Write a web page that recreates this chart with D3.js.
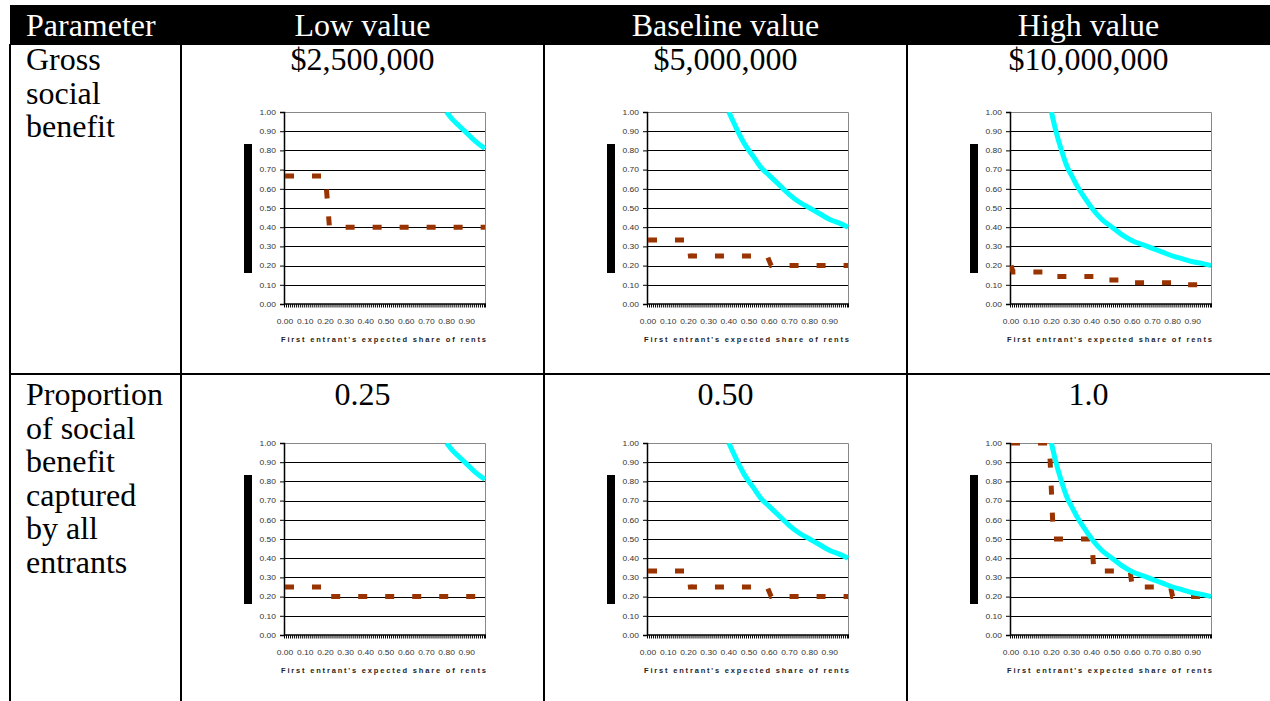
<!DOCTYPE html>
<html>
<head>
<meta charset="utf-8">
<script src="https://cdn.jsdelivr.net/npm/d3@7"></script>
<style>
  body { margin: 0; background: #fff; }
  svg { display: block; }
  .tbl { font-family: "Liberation Serif", "Times New Roman", serif; font-size: 32px; }
  .tick-lbl { font-family: "Liberation Sans", Arial, sans-serif; font-size: 6.5px; fill: #333; }
  .ax-title { font-family: "Liberation Sans", Arial, sans-serif; font-size: 7.5px; font-weight: bold; fill: #222; }
</style>
</head>
<body>
<svg id="page" width="1270" height="701"></svg>
<script>
// ---- table text ----
var colHeaders = ["Parameter", "Low value", "Baseline value", "High value"];
var rowLabels = [
  ["Gross", "social", "benefit"],
  ["Proportion", "of social", "benefit", "captured", "by all", "entrants"]
];
var cellTitles = [
  ["$2,500,000", "$5,000,000", "$10,000,000"],
  ["0.25", "0.50", "1.0"]
];

// ---- axes ----
var categories = d3.range(100).map(function(i) { return (i / 100).toFixed(2); });
var xTickLabels = ["0.00", "0.10", "0.20", "0.30", "0.40", "0.50", "0.60", "0.70", "0.80", "0.90"];
var yTicks = [0, 0.1, 0.2, 0.3, 0.4, 0.5, 0.6, 0.7, 0.8, 0.9, 1.0];
var xTitle = "First entrant's expected share of rents";

// ---- cyan curves [share, value] ----
var cyanLow = [[0.80, 1.00], [0.83, 0.96], [0.86, 0.93], [0.90, 0.89], [0.94, 0.85], [0.99, 0.81]];
var cyanBase = [[0.40, 1.00], [0.44, 0.91], [0.48, 0.83], [0.52, 0.77], [0.56, 0.71], [0.60, 0.67],
  [0.65, 0.62], [0.70, 0.57], [0.75, 0.53], [0.80, 0.50], [0.85, 0.47], [0.90, 0.44], [0.95, 0.42], [0.99, 0.40]];
var cyanHigh = [[0.20, 1.00], [0.22, 0.91], [0.25, 0.80], [0.28, 0.71], [0.30, 0.67], [0.33, 0.61],
  [0.36, 0.56], [0.40, 0.50], [0.45, 0.44], [0.50, 0.40], [0.55, 0.36], [0.60, 0.33], [0.65, 0.31],
  [0.70, 0.29], [0.75, 0.27], [0.80, 0.25], [0.85, 0.235], [0.90, 0.22], [0.95, 0.21], [0.99, 0.20]];

// ---- brown dashed step lines [share, value] ----
var brownGrossLow = [[0.00, 0.667], [0.20, 0.667], [0.22, 0.40], [0.99, 0.40]];
var brownGrossBase = [[0.00, 0.333], [0.20, 0.333], [0.21, 0.25], [0.59, 0.25], [0.61, 0.20], [0.99, 0.20]];
var brownGrossHigh = [[0.00, 0.20], [0.01, 0.167], [0.20, 0.167], [0.21, 0.143], [0.45, 0.143], [0.46, 0.125],
  [0.57, 0.125], [0.58, 0.111], [0.84, 0.111], [0.85, 0.10], [0.99, 0.10]];
var brownPropLow = [[0.00, 0.25], [0.20, 0.25], [0.21, 0.20], [0.99, 0.20]];
var brownPropBase = [[0.00, 0.333], [0.20, 0.333], [0.21, 0.25], [0.59, 0.25], [0.61, 0.20], [0.99, 0.20]];
var brownPropHigh = [[0.00, 1.00], [0.19, 1.00], [0.21, 0.50], [0.40, 0.50], [0.41, 0.333], [0.59, 0.333],
  [0.60, 0.25], [0.79, 0.25], [0.80, 0.20], [0.99, 0.20]];

var charts = [
  [{cyan: cyanLow, brown: brownGrossLow}, {cyan: cyanBase, brown: brownGrossBase}, {cyan: cyanHigh, brown: brownGrossHigh}],
  [{cyan: cyanLow, brown: brownPropLow}, {cyan: cyanBase, brown: brownPropBase}, {cyan: cyanHigh, brown: brownPropHigh}]
];

// layout
var colX = [10, 181, 544, 907, 1270];
var plotW = 202, plotH = 192;

var svg = d3.select('#page');

// header band
svg.append('rect').attr('x', 10).attr('y', 5).attr('width', 1260).attr('height', 40).attr('fill', '#000');
colHeaders.forEach(function(h, i) {
  var t = svg.append('text').attr('class', 'tbl').attr('fill', '#fff').attr('y', 36).text(h);
  if (i === 0) t.attr('x', 26);
  else t.attr('x', (colX[i] + colX[i + 1]) / 2).attr('text-anchor', 'middle');
});

// grid lines of table
var lines = svg.append('g').attr('stroke', '#000').attr('stroke-width', 2);
[10, 181, 544, 907].forEach(function(x) {
  lines.append('line').attr('x1', x).attr('x2', x).attr('y1', 44).attr('y2', 701);
});
lines.append('line').attr('x1', 10).attr('x2', 1270).attr('y1', 374).attr('y2', 374);

// row labels + titles
var textBase = [70, 405];
rowLabels.forEach(function(lbls, r) {
  lbls.forEach(function(l, k) {
    svg.append('text').attr('class', 'tbl').attr('x', 26).attr('y', textBase[r] + k * 33.6).text(l);
  });
  cellTitles[r].forEach(function(t, c) {
    svg.append('text').attr('class', 'tbl').attr('text-anchor', 'middle')
      .attr('x', (colX[c + 1] + colX[c + 2]) / 2).attr('y', textBase[r]).text(t);
  });
});

var plotTops = [112, 443];
charts.forEach(function(row, r) {
  row.forEach(function(cfg, c) {
    drawChart(colX[c + 1] + 103, plotTops[r], cfg, 'clip' + r + c);
  });
});

function drawChart(left, top, cfg, clipId) {
  var g = svg.append('g').attr('transform', 'translate(' + left + ',' + top + ')');
  var x = d3.scaleBand().domain(categories).range([0, plotW]);
  var y = d3.scaleLinear().domain([0, 1]).range([plotH, 0]);
  var px = function(d) { return x(d[0].toFixed(2)) + x.bandwidth() / 2; };

  // gridlines
  g.append('g').selectAll('line').data(yTicks.slice(1, -1)).join('line')
    .attr('x1', 0).attr('x2', plotW)
    .attr('y1', function(d) { return Math.round(y(d)) + 0.5; })
    .attr('y2', function(d) { return Math.round(y(d)) + 0.5; })
    .attr('stroke', '#000').attr('stroke-width', 1);

  // plot frame (top / right)
  g.append('path').attr('d', 'M0,0.5H' + (plotW - 0.5) + 'V' + plotH)
    .attr('fill', 'none').attr('stroke', '#888').attr('stroke-width', 1);

  // black block on the left (value title)
  g.append('rect').attr('x', -40).attr('y', 32).attr('width', 8).attr('height', 129).attr('fill', '#000');

  // y axis
  var ya = g.append('g').call(d3.axisLeft(y).tickValues(yTicks).tickSize(4).tickPadding(3).tickFormat(d3.format('.2f')));
  ya.select('.domain').attr('stroke', '#000').attr('stroke-width', 1.5);
  ya.selectAll('.tick line').attr('stroke', '#000');
  ya.selectAll('text').attr('class', 'tick-lbl').attr('font-size', null).attr('font-family', null)
    .attr('x', -8).attr('textLength', 16.5).attr('lengthAdjust', 'spacingAndGlyphs').attr('dy', '0.35em');

  // x axis: tick marks between every category
  var xa = g.append('g').attr('transform', 'translate(0,' + plotH + ')');
  xa.append('line').attr('x1', 0).attr('x2', plotW).attr('y1', 0).attr('y2', 0)
    .attr('stroke', '#000').attr('stroke-width', 1.5);
  xa.selectAll('line.mt').data(categories).join('line').attr('class', 'mt')
    .attr('x1', function(d) { return x(d) + 0.5; }).attr('x2', function(d) { return x(d) + 0.5; })
    .attr('y1', 0).attr('y2', 3.5).attr('stroke', '#000').attr('stroke-width', 1);
  xa.append('line').attr('x1', plotW - 0.5).attr('x2', plotW - 0.5).attr('y1', 0).attr('y2', 3.5).attr('stroke', '#000');
  xa.selectAll('text.xl').data(xTickLabels).join('text').attr('class', 'tick-lbl')
    .attr('x', function(d) { return x(d) + x.bandwidth() / 2; }).attr('y', 20)
    .attr('text-anchor', 'middle').attr('textLength', 16.5).attr('lengthAdjust', 'spacingAndGlyphs').text(function(d) { return d; });
  xa.append('text').attr('class', 'ax-title').attr('x', -3).attr('y', 38)
    .attr('textLength', plotW + 3).attr('lengthAdjust', 'spacing').text(xTitle);

  // series, clipped to plot area
  g.append('clipPath').attr('id', clipId).append('rect').attr('width', plotW).attr('height', plotH);
  var s = g.append('g').attr('clip-path', 'url(#' + clipId + ')');
  s.append('path').datum(cfg.brown)
    .attr('d', d3.line().x(px).y(function(d) { return y(d[1]); }))
    .attr('fill', 'none').attr('stroke', '#993300').attr('stroke-width', 5)
    .attr('stroke-dasharray', '9,18').attr('stroke-linecap', 'butt');
  s.append('path').datum(cfg.cyan)
    .attr('d', d3.line().x(px).y(function(d) { return y(d[1]); }).curve(d3.curveMonotoneX))
    .attr('fill', 'none').attr('stroke', '#00ffff').attr('stroke-width', 5);
}
</script>
</body>
</html>
